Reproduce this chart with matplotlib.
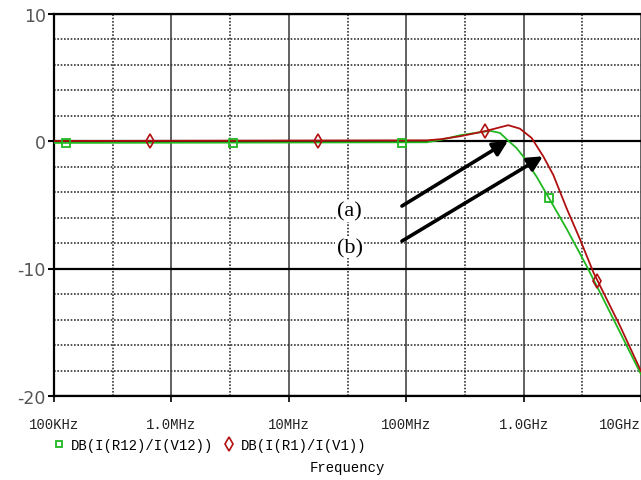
import numpy as np
import matplotlib
matplotlib.use('Agg')
import matplotlib.pyplot as plt
from matplotlib.lines import Line2D
from matplotlib.ticker import NullFormatter

# data
green_f = [1e5, 1.5e8, 2.0e8, 2.87e8, 4.0e8, 5.2e8, 6.3e8, 7.4e8, 8.7e8, 9.9e8,
           1.29e9, 1.65e9, 2.33e9, 3.44e9, 4.78e9, 6.62e9, 1e10]
green_db = [-0.15, -0.1, 0.1, 0.45, 0.65, 0.8, 0.63, 0.02, -0.55, -1.2,
            -2.8, -4.5, -6.9, -9.8, -12.4, -15.0, -18.3]
red_f = [1e5, 1.5e8, 2.0e8, 2.87e8, 4.69e8, 7.4e8, 9.3e8, 1.17e9, 1.47e9, 1.79e9,
         2.33e9, 3.02e9, 3.93e9, 5.1e9, 6.62e9, 1e10]
red_db = [0.0, 0.05, 0.15, 0.37, 0.77, 1.24, 0.97, 0.24, -1.2, -2.66,
          -5.3, -7.7, -10.3, -12.4, -14.5, -18.05]

green_mark_f = [1.26e5, 3.35e6, 9.2e7, 1.64e9]
green_mark_db = [-0.15, -0.15, -0.15, -4.5]
red_mark_f = [6.6e5, 1.77e7, 4.69e8, 4.22e9]
red_mark_db = [0.0, 0.0, 0.77, -11.0]

xtick_vals = [1e5, 1e6, 1e7, 1e8, 1e9, 1e10]
xtick_labels = ['100KHz', '1.0MHz', '10MHz', '100MHz', '1.0GHz', '10GHz']
ytick_vals = [-20, -10, 0, 10]
legend_labels = ['DB(I(R12)/I(V12))', 'DB(I(R1)/I(V1))']

GREEN = '#20b820'
RED = '#b01010'
mono = dict(family=['Liberation Mono', 'DejaVu Sans Mono'], size=10)

fig = plt.figure(figsize=(6.41, 4.81), dpi=100)
ax = fig.add_axes([54 / 641, 1 - 397 / 481, 1 - 54 / 641, (397 - 14.5) / 481])

ax.plot(green_f, green_db, color=GREEN, lw=1.3, zorder=3)
ax.plot(red_f, red_db, color=RED, lw=1.3, zorder=3)
ax.plot(green_mark_f, green_mark_db, ls='none', marker='s', ms=6,
        mfc='none', mec=GREEN, mew=1.3, zorder=4)
ax.plot(red_mark_f, red_mark_db, ls='none', marker='d', ms=7,
        mfc='none', mec=RED, mew=1.2, zorder=4)

ax.set_xscale('log')
ax.set_xlim(1e5, 1e10)
ax.set_ylim(-20, 10)

ax.set_xticks(xtick_vals)
ax.set_xticklabels(xtick_labels, fontdict=mono, color='#222222')
ax.get_xticklabels()[-1].set_ha('right')
ax.set_xticks([10 ** (k + 0.5) for k in range(5, 10)], minor=True)
ax.xaxis.set_minor_formatter(NullFormatter())

ax.set_yticks(ytick_vals)
ax.set_yticklabels([str(v) for v in ytick_vals],
                   family=['Liberation Sans Narrow', 'DejaVu Sans'],
                   size=12.5, color='#555555')
ax.set_yticks([v for v in range(-18, 10, 2) if v % 10 != 0], minor=True)

ax.tick_params(which='minor', length=0)
ax.tick_params(axis='x', which='major', direction='out', length=4, width=1.2, pad=11)
ax.tick_params(axis='y', which='major', direction='out', length=4, width=1.5, pad=2)

ax.set_axisbelow(True)
ax.grid(True, which='major', axis='x', color='#555555', lw=1.3)
ax.grid(True, which='major', axis='y', color='black', lw=1.6)
ax.grid(True, which='minor', axis='both', color='#333333', lw=1.2, ls=(0, (1, 1)))

for side in ['left', 'top', 'bottom']:
    ax.spines[side].set_linewidth(1.6)
    ax.spines[side].set_color('black')
ax.spines['right'].set_visible(False)

# annotations
arrow = dict(arrowstyle='-|>', lw=2.6, color='black', mutation_scale=22,
             shrinkA=0, shrinkB=0)
ax.annotate('', xy=(7.36e8, 0.0), xytext=(9.2e7, -5.1), arrowprops=arrow, zorder=5)
ax.annotate('', xy=(1.46e9, -1.2), xytext=(9.2e7, -7.85), arrowprops=arrow, zorder=5)
box = dict(fc='white', ec='none', pad=1)
ax.text(3.3e7, -5.5, '(a)', ha='center', va='center', fontsize=16,
        family='Liberation Serif', bbox=box, zorder=4)
ax.text(3.3e7, -8.35, '(b)', ha='center', va='center', fontsize=16,
        family='Liberation Serif', bbox=box, zorder=4)

handles = [Line2D([], [], ls='none', marker='s', ms=5, mfc='none', mec=GREEN, mew=1.3),
           Line2D([], [], ls='none', marker='d', ms=7, mfc='none', mec=RED, mew=1.2)]
fig.legend(handles, legend_labels, loc='center left',
           bbox_to_anchor=(53 / 641, 1 - 446 / 481), ncol=2, frameon=False,
           prop=mono, handlelength=0.8, handletextpad=0.5, columnspacing=0.7,
           borderpad=0, borderaxespad=0)

fig.text(347 / 641, 1 - 468 / 481, 'Frequency', ha='center', va='center', **mono)

fig.savefig('out.png', dpi=100)
